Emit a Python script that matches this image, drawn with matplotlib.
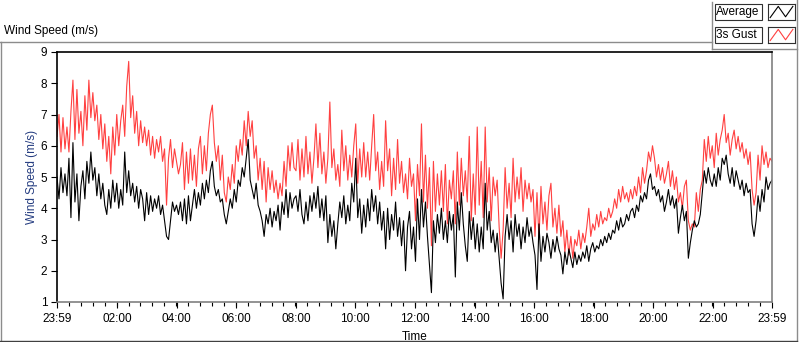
"""
Wind speed chart: 1-min average and 3 s gust over one day
"""

import numpy as np
import matplotlib
matplotlib.use("Agg")
import matplotlib.pyplot as plt
from matplotlib.lines import Line2D
from matplotlib.patches import Rectangle

# values, 4 min apart, starting at 23:59
average = [
    5.0, 4.3, 5.3, 4.5, 5.1, 4.4, 5.6, 3.7, 6.1, 4.2, 5.1, 3.6, 4.7, 5.2, 4.3, 5.5, 4.8, 5.8, 4.9, 5.3,
    4.4, 5.1, 4.3, 4.8, 4.1, 3.8, 4.6, 4.0, 4.9, 4.2, 4.8, 4.0, 4.6, 4.1, 5.8, 4.5, 5.2, 4.4, 4.8, 4.2,
    4.7, 4.0, 4.6, 4.3, 3.6, 4.5, 3.8, 4.4, 3.9, 4.3, 4.0, 4.4, 3.8, 4.1, 3.6, 3.1, 3.0, 3.6, 4.2, 3.9,
    4.1, 3.8, 4.2, 3.6, 4.3, 3.5, 4.4, 3.6, 4.1, 4.6, 4.0, 4.5, 4.1, 4.8, 4.3, 4.9, 4.5, 5.2, 5.5, 4.7,
    4.4, 4.6, 4.2, 4.3, 3.8, 3.5, 3.9, 4.3, 4.0, 4.6, 4.2, 4.9, 4.7, 5.3, 5.0, 5.6, 6.2, 4.9, 4.6, 4.3,
    4.8, 4.1, 3.9, 3.6, 3.1, 3.8, 3.5, 4.0, 3.4, 3.9, 3.6, 4.1, 3.3, 4.2, 3.8, 4.6, 3.7, 4.5, 4.0, 4.3,
    4.4, 3.9, 4.6, 3.8, 3.5, 4.2, 3.6, 4.4, 3.9, 4.5, 4.0, 4.7, 3.7, 4.3, 3.6, 4.4, 2.9, 3.8, 3.1, 3.6,
    2.7, 3.5, 4.2, 3.7, 4.4, 3.5, 4.1, 3.6, 4.8, 4.2, 5.6, 3.7, 4.3, 3.2, 4.1, 3.4, 4.3, 3.6, 4.6, 3.9,
    4.4, 3.5, 4.2, 3.3, 3.9, 2.7, 4.0, 3.0, 3.8, 3.3, 4.2, 3.1, 3.7, 2.8, 3.6, 2.0, 3.4, 3.9, 2.7, 3.4,
    2.3, 4.3, 3.0, 4.6, 3.4, 4.2, 3.1, 2.2, 1.3, 3.6, 2.9, 3.8, 3.2, 4.0, 3.0, 3.6, 2.9, 3.9, 3.3, 3.8,
    1.8, 4.2, 3.3, 4.5, 3.5, 2.8, 2.3, 3.9, 3.0, 3.7, 2.7, 3.5, 2.6, 3.4, 2.7, 4.8, 3.3, 3.9, 2.9, 3.3,
    2.6, 3.2, 2.4, 1.6, 1.1, 3.1, 3.8, 3.0, 3.6, 2.6, 3.8, 3.1, 3.5, 2.7, 3.4, 2.9, 3.7, 3.1, 3.4, 2.9,
    2.5, 1.4, 3.5, 2.3, 3.1, 2.6, 3.2, 2.9, 2.4, 3.0, 2.6, 3.1, 2.7, 2.5, 1.9, 2.6, 2.2, 2.7, 2.4, 2.1,
    2.6, 2.2, 2.5, 2.3, 2.6, 2.4, 2.8, 2.3, 2.7, 2.9, 2.6, 2.8, 2.7, 3.0, 2.8, 3.1, 2.9, 3.2, 3.0, 3.3,
    3.2, 3.6, 3.3, 3.7, 3.4, 3.5, 3.8, 3.6, 3.9, 4.0, 3.7, 4.1, 3.9, 4.4, 4.2, 4.5, 4.3, 4.9, 5.1, 4.6,
    4.7, 4.4, 4.6, 4.2, 4.4, 3.9, 4.2, 4.6, 4.1, 4.4, 4.0, 4.3, 3.2, 3.7, 4.1, 3.6, 3.9, 2.4, 2.9, 3.3,
    3.6, 3.4, 3.5, 3.8, 4.5, 5.2, 4.8, 5.3, 4.9, 4.7, 5.1, 4.7, 5.3, 4.9, 5.6, 5.4, 5.7, 5.1, 4.8, 5.3,
    4.7, 5.2, 4.9, 4.6, 4.9, 4.4, 4.8, 4.5, 4.6, 3.5, 3.1, 3.6, 4.4, 3.9, 4.6, 4.2, 5.0, 4.6, 4.8, 4.9,
]

gust = [
    6.3, 7.0, 5.8, 6.9, 5.9, 6.6, 5.8, 7.1, 8.1, 6.2, 7.8, 6.4, 7.1, 6.0, 7.6, 6.5, 8.1, 6.9, 7.7, 6.8,
    7.3, 6.2, 7.0, 5.9, 6.7, 5.5, 6.3, 5.1, 6.6, 5.7, 7.0, 6.0, 6.8, 7.3, 6.3, 7.9, 8.7, 6.9, 7.6, 6.4,
    7.1, 6.0, 6.8, 6.1, 6.6, 6.0, 6.5, 5.7, 6.3, 5.6, 6.2, 5.8, 6.3, 5.5, 5.9, 4.1, 5.6, 6.2, 5.3, 5.9,
    5.5, 5.1, 5.4, 6.1, 4.6, 5.8, 4.8, 5.9, 4.9, 5.7, 4.7, 5.9, 6.3, 5.1, 6.0, 5.2, 6.4, 7.0, 7.3, 6.1,
    5.5, 6.0, 4.9, 5.7, 4.5, 4.2, 5.0, 4.6, 5.4, 4.8, 6.0, 5.5, 6.2, 5.7, 6.8, 6.0, 7.1, 6.3, 6.8, 5.6,
    6.0, 4.9, 5.6, 4.6, 5.5, 4.2, 5.3, 4.6, 5.2, 4.5, 4.9, 4.3, 4.8, 4.4, 5.5, 4.7, 6.0, 5.2, 6.1, 5.3,
    5.2, 6.2, 4.9, 5.9, 5.0, 6.3, 5.1, 5.8, 4.8, 5.6, 6.7, 5.3, 6.4, 5.1, 5.8, 4.8, 5.6, 7.4, 5.3, 5.9,
    4.9, 5.4, 4.7, 6.5, 5.2, 6.0, 4.9, 5.7, 5.0, 6.0, 6.7, 4.8, 5.9, 5.0, 6.1, 5.0, 5.8, 4.9, 6.0, 7.0,
    5.2, 5.8, 4.6, 5.5, 4.7, 6.8, 5.2, 5.9, 4.4, 5.6, 4.6, 6.2, 4.8, 5.5, 4.5, 5.1, 4.3, 5.6, 4.7, 5.1,
    3.6, 5.4, 4.4, 6.7, 4.2, 5.7, 4.0, 5.3, 2.8, 5.5, 3.9, 5.1, 4.1, 5.2, 3.9, 5.4, 3.5, 4.9, 4.3, 5.2,
    3.5, 5.8, 4.1, 5.6, 4.4, 5.2, 4.2, 6.3, 3.6, 5.1, 3.8, 6.6, 4.1, 5.5, 3.7, 6.6, 4.2, 5.3, 3.6, 5.0,
    4.4, 4.9, 3.4, 2.4, 3.3, 5.3, 4.0, 4.8, 3.7, 5.6, 4.2, 5.0, 4.3, 5.3, 3.9, 4.9, 4.3, 4.8, 4.2, 4.6,
    3.1, 4.5, 3.0, 4.7, 3.5, 4.2, 3.3, 4.4, 4.8, 3.4, 4.0, 3.2, 4.1, 3.1, 3.6, 2.6, 3.3, 2.5, 3.1, 2.4,
    3.0, 2.8, 3.3, 2.7, 3.2, 2.9, 3.4, 4.0, 3.1, 3.5, 3.3, 3.8, 3.4, 3.9, 3.5, 3.7, 3.6, 4.0, 3.7, 3.9,
    4.3, 4.0, 4.6, 4.2, 4.7, 4.3, 4.5, 4.2, 4.6, 4.3, 4.7, 4.4, 5.0, 4.5, 5.3, 4.8, 5.2, 5.8, 5.5, 6.0,
    5.6, 5.0, 5.4, 4.9, 5.3, 4.8, 5.1, 5.5, 4.7, 5.2, 4.6, 5.0, 4.2, 4.5, 4.0, 4.7, 4.9, 3.6, 3.3, 3.5,
    3.4, 4.5, 3.9, 4.6, 4.9, 6.2, 5.5, 6.3, 5.6, 6.0, 5.3, 6.4, 5.7, 6.2, 6.5, 7.0, 6.1, 6.4, 5.7, 6.2,
    6.5, 5.9, 6.3, 5.8, 6.1, 5.6, 5.9, 5.4, 5.8, 4.6, 4.1, 4.5, 5.7, 4.9, 6.0, 5.4, 5.8, 5.3, 5.6, 5.5,
]

tick_labels = ["23:59", "02:00", "04:00", "06:00", "08:00", "10:00", "12:00",
               "14:00", "16:00", "18:00", "20:00", "22:00", "23:59"]
y_ticks = [1, 2, 3, 4, 5, 6, 7, 8, 9]

RED = "#ff4040"
BLUE = "#243c80"
W, H = 800, 342
FS = 8.5

plt.rcParams["font.family"] = ["Liberation Sans", "DejaVu Sans"]
plt.rcParams["font.size"] = FS


def fx(px):
    return px / W


def fy(py):
    return 1 - py / H


def make_chart():
    # hours after 23:59, one sample every 4 minutes
    hours = np.linspace(0, 24, len(average))

    fig = plt.figure(figsize=(W / 100, H / 100), dpi=100)
    ax = fig.add_axes([fx(57), fy(302), fx(772 - 57), (302 - 52) / H])

    ax.plot(hours, gust, color=RED, lw=0.8)
    ax.plot(hours, average, color="black", lw=0.8)

    ax.set_xlim(0, 24)
    ax.set_ylim(1, 9)
    major = [0] + [2 * k + 1 / 60 for k in range(1, 12)] + [24]
    ax.set_xticks(major)
    ax.set_xticklabels(tick_labels)
    ax.set_xticks(np.arange(0, 24.01, 0.4), minor=True)
    ax.set_yticks(y_ticks)
    ax.tick_params(axis="both", which="major", length=4, width=0.8, labelsize=FS)
    ax.tick_params(axis="x", which="major", pad=4)
    ax.tick_params(axis="y", which="major", pad=3)
    ax.tick_params(axis="x", which="minor", length=3, width=0.8)

    for side in ("top", "left"):
        ax.spines[side].set_color("black")
        ax.spines[side].set_linewidth(1.2)
    for side in ("right", "bottom"):
        ax.spines[side].set_color("#808080")
        ax.spines[side].set_linewidth(1.2)

    ax.set_xlabel("Time", fontsize=FS, labelpad=4)
    ax.set_ylabel("Wind Speed (m/s)", fontsize=FS, color=BLUE)
    ax.yaxis.set_label_coords(-0.026, 0.5)

    # outer panel frame
    gray = "#8c8c8c"
    fig.add_artist(Line2D([0, fx(712)], [fy(42), fy(42)], color=gray, lw=1))
    fig.add_artist(Line2D([fx(0.5), fx(0.5)], [fy(42), 0], color=gray, lw=1))
    fig.add_artist(Line2D([fx(797), fx(797)], [fy(0), 0], color=gray, lw=1))
    fig.add_artist(Line2D([0, fx(797)], [fy(341), fy(341)], color="#404040", lw=1))
    fig.add_artist(Line2D([fx(712), fx(712)], [fy(2), fy(49)], color=gray, lw=1))
    fig.add_artist(Line2D([fx(712), fx(797)], [fy(49), fy(49)], color=gray, lw=1))

    fig.text(fx(4), fy(31), "Wind Speed (m/s)", ha="left", va="center", fontsize=FS)

    # legend boxes
    for row, (name, color) in enumerate([("Average", "black"), ("3s Gust", RED)]):
        top = 4 + row * 23
        fig.add_artist(Rectangle((fx(715), fy(top + 16)), fx(47), 16 / H,
                                 facecolor="white", edgecolor="#303030", lw=0.8))
        fig.text(fx(716), fy(top + 8), name, ha="left", va="center", fontsize=FS)
        sample = fig.add_axes([fx(768), fy(top + 16), fx(27), 16 / H])
        sample.plot([0.08, 0.38, 0.65, 0.92], [0.15, 0.85, 0.2, 0.85], color=color, lw=0.8)
        sample.set_xlim(0, 1)
        sample.set_ylim(0, 1)
        sample.set_xticks([])
        sample.set_yticks([])
        for s in sample.spines.values():
            s.set_color("#303030")
            s.set_linewidth(0.8)

    fig.savefig("out.png", dpi=100)


if __name__ == "__main__":
    make_chart()
